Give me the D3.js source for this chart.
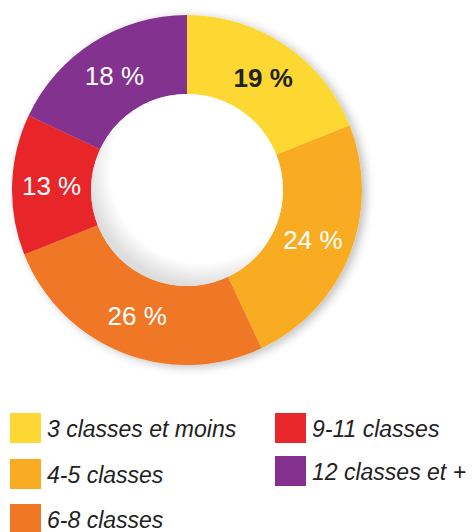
<!DOCTYPE html>
<html>
<head>
<meta charset="utf-8">
<script src="https://d3js.org/d3.v7.min.js"></script>
<style>
  body { margin: 0; background: #fff; }
  text { font-family: "Liberation Sans", Arial, sans-serif; }
</style>
</head>
<body>
<svg width="474" height="532"></svg>
<script>
var categories = ["3 classes et moins", "4-5 classes", "6-8 classes", "9-11 classes", "12 classes et +"];
var values = [19, 24, 26, 13, 18];
var colors = ["#FDD733", "#F9AC22", "#F07726", "#E8282A", "#84308F"];
var labelColors = ["#222", "#fff", "#fff", "#fff", "#fff"];

var svg = d3.select("svg"),
    cx = 187, cy = 190,
    outerR = 175, innerR = 96;

var defs = svg.append("defs");
var f = defs.append("filter").attr("id", "shadow")
    .attr("x", "-20%").attr("y", "-20%").attr("width", "140%").attr("height", "140%");
f.append("feDropShadow").attr("dx", 4).attr("dy", 2).attr("stdDeviation", 5)
    .attr("flood-color", "#000").attr("flood-opacity", 0.25);

var inner = defs.append("radialGradient").attr("id", "innerShade")
    .attr("cx", "58%").attr("cy", "40%").attr("r", "60%");
inner.append("stop").attr("offset", "80%").attr("stop-color", "#fff");
inner.append("stop").attr("offset", "100%").attr("stop-color", "#ddd");

var data = categories.map(function(c, i) { return {name: c, value: values[i], i: i}; });

var pie = d3.pie().sort(null).value(function(d) { return d.value; });
var arc = d3.arc().innerRadius(innerR).outerRadius(outerR);

var g = svg.append("g").attr("transform", "translate(" + cx + "," + cy + ")");

var ring = g.append("g").attr("filter", "url(#shadow)");
ring.selectAll("path")
    .data(pie(data))
    .enter().append("path")
    .attr("d", arc)
    .attr("fill", function(d) { return colors[d.data.i]; });

g.append("circle").attr("r", innerR).attr("fill", "url(#innerShade)");

g.selectAll(".lbl")
    .data(pie(data))
    .enter().append("text")
    .attr("class", "lbl")
    .attr("transform", function(d) { return "translate(" + arc.centroid(d) + ")"; })
    .attr("text-anchor", "middle")
    .attr("dy", "0.36em")
    .attr("font-size", 26)
    .attr("font-weight", function(d) { return d.data.i === 0 ? "bold" : "normal"; })
    .attr("fill", function(d) { return labelColors[d.data.i]; })
    .text(function(d) { return d.data.value + " %"; });

// legend
var legendPos = [[10, 413], [10, 459], [10, 504], [275, 413], [275, 456]];
var lg = svg.selectAll(".leg")
    .data(data)
    .enter().append("g")
    .attr("class", "leg")
    .attr("transform", function(d) { return "translate(" + legendPos[d.i][0] + "," + legendPos[d.i][1] + ")"; });

lg.append("rect").attr("width", 31).attr("height", 30)
    .attr("fill", function(d) { return colors[d.i]; });
lg.append("text")
    .attr("x", 37).attr("y", 24)
    .attr("font-size", 23)
    .attr("font-style", "italic")
    .attr("fill", "#222")
    .text(function(d) { return d.name; });
</script>
</body>
</html>
